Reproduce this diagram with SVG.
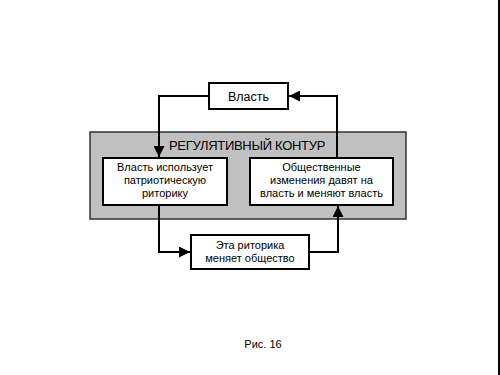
<svg xmlns="http://www.w3.org/2000/svg" width="500" height="375" viewBox="0 0 500 375">
<style>
.box{fill:#fff;stroke:#000;stroke-width:2}
.t{font-family:"Liberation Sans",Arial,sans-serif;font-size:11px;fill:#000;text-anchor:middle}
.c{fill:none;stroke:#000;stroke-width:2}
</style>
<defs>
<marker id="ah" viewBox="0 0 10 10" refX="10" refY="5" markerWidth="5.5" markerHeight="5.5" orient="auto" markerUnits="strokeWidth">
<path d="M0,0 L10,5 L0,10 z" fill="#000"/>
</marker>
</defs>
<rect x="0" y="0" width="500" height="375" fill="#fff"/>
<rect x="498" y="0" width="2" height="375" fill="#000"/>
<g id="contour">
<rect x="90" y="132" width="316" height="87" fill="#c0c0c0" stroke="#333" stroke-width="1.5"/>
<text x="247" y="150" class="t" style="font-size:13px;letter-spacing:-0.3px">РЕГУЛЯТИВНЫЙ КОНТУР</text>
</g>
<g id="vlast">
<rect x="209" y="83" width="79" height="26" class="box"/>
<text x="248.5" y="100.5" class="t" style="font-size:12.5px">Власть</text>
</g>
<g id="left">
<rect x="103" y="158" width="124" height="47" class="box"/>
<text x="165" y="171" class="t">Власть использует</text>
<text x="165" y="184" class="t">патриотическую</text>
<text x="165" y="197" class="t">риторику</text>
</g>
<g id="right">
<rect x="250" y="158" width="143" height="47" class="box"/>
<text x="321.5" y="171" class="t">Общественные</text>
<text x="321.5" y="184" class="t">изменения давят на</text>
<text x="321.5" y="197" class="t">власть и меняют власть</text>
</g>
<g id="bottom">
<rect x="191" y="235" width="118" height="34" class="box"/>
<text x="250" y="249" class="t">Эта риторика</text>
<text x="250" y="262" class="t">меняет общество</text>
</g>
<g id="connectors">
<polyline class="c" points="209,96 159,96 159,157" marker-end="url(#ah)"/>
<polyline class="c" points="337,158 337,96 289,96" marker-end="url(#ah)"/>
<polyline class="c" points="159,205 159,252 190,252" marker-end="url(#ah)"/>
<polyline class="c" points="309,252 338,252 338,206" marker-end="url(#ah)"/>
</g>
<text x="263" y="348" class="t">Рис. 16</text>
</svg>
